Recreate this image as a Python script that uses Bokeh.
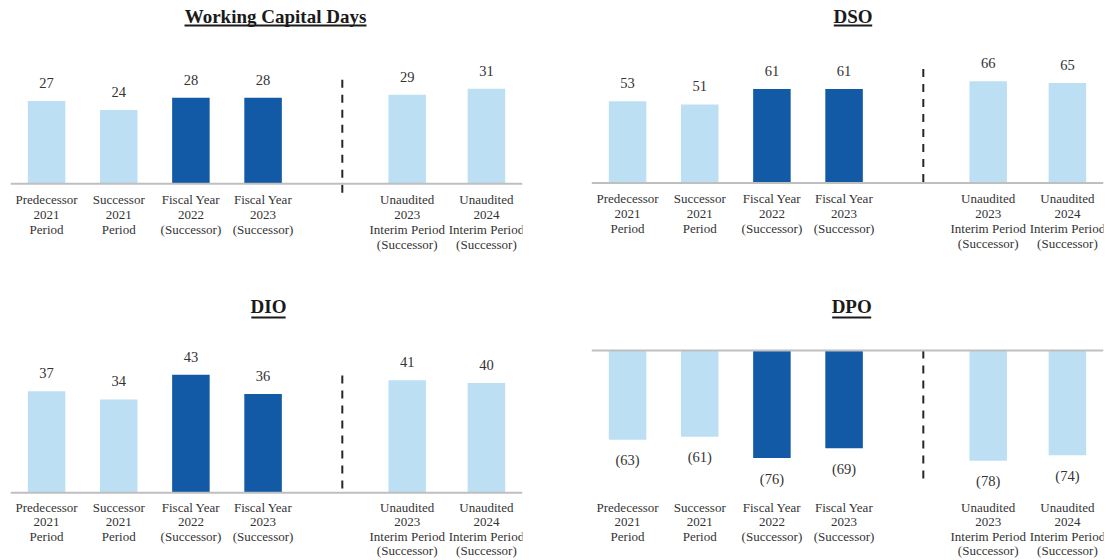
from bokeh.plotting import figure
from bokeh.layouts import column, row
from bokeh.models import ColumnDataSource, FactorRange, Range1d, Span, Label, BoxAnnotation
from bokeh.core.properties import value
from bokeh.embed import file_html
from bokeh.resources import INLINE

# ---------------- data ----------------
categories = [
    "Predecessor\n2021\nPeriod",
    "Successor\n2021\nPeriod",
    "Fiscal Year\n2022\n(Successor)",
    "Fiscal Year\n2023\n(Successor)",
    "Unaudited\n2023\nInterim Period\n(Successor)",
    "Unaudited\n2024\nInterim Period\n(Successor)",
]
kinds = ["period", "period", "fiscal", "fiscal", "interim", "interim"]

wcd_days = [27, 24, 28, 28, 29, 31]
dso_days = [53, 51, 61, 61, 66, 65]
dio_days = [37, 34, 43, 36, 41, 40]
dpo_days = [-63, -61, -76, -69, -78, -74]

titles = ["Working Capital Days", "DSO", "DIO", "DPO"]

# ---------------- style ----------------
GAP = " "
FONT = "Liberation Serif"
LIGHT = "#BDDFF4"
DARK = "#1259A6"
palette = {"period": LIGHT, "fiscal": DARK, "interim": LIGHT}
TEXT = "#333333"

# nested factor keys: audited periods | separator | interim periods
groups = [("a", "a1"), ("a", "a1"), ("a", "a1"), ("a", "a1"), ("b", "b1"), ("b", "b2")]
keys = [g + (c,) for g, c in zip(groups, categories)]
GAP_KEY = ("a", "a2", GAP)
factors = keys[:4] + [GAP_KEY] + keys[4:]


def fmt(v):
    return f"({abs(v)})" if v < 0 else f"{v}"


def panel(title, values, yr, sep, size, borders, title_xy, ul_w, ul_y, val_off, cat_off, cat_lh):
    p = figure(
        x_range=FactorRange(factors=factors, range_padding=0, factor_padding=0,
                            subgroup_padding=0.098, group_padding=-0.101),
        y_range=Range1d(*yr),
        width=size[0], height=size[1],
        min_border_left=borders[0], min_border_right=borders[1],
        min_border_top=0, min_border_bottom=0,
        toolbar_location=None, output_backend="svg",
        x_axis_location=None, y_axis_location=None,
    )
    p.grid.visible = False
    p.outline_line_color = None
    p.background_fill_color = "white"
    p.border_fill_color = "white"

    src = ColumnDataSource(dict(
        cat=keys,
        name=categories,
        val=values,
        color=[palette[k] for k in kinds],
        label=[fmt(v) for v in values],
        zero=[0] * len(values),
    ))
    p.vbar(x="cat", top="val", bottom=0, width=0.52, fill_color="color",
           line_color=None, source=src)
    p.add_layout(Span(location=0, dimension="width", line_color="#BFBFBF", line_width=2))
    p.segment(x0=[GAP_KEY], x1=[GAP_KEY], y0=[sep[0]], y1=[sep[1]], line_color="#262626",
              line_width=2, line_dash="8 7")
    p.text(x="cat", y="val", text="label", source=src, y_offset=val_off,
           text_align="center", text_baseline="middle", text_font=value(FONT),
           text_font_size="14.5px", text_color=TEXT)
    p.text(x="cat", y="zero", text="name", source=src, y_offset=cat_off,
           text_align="center", text_baseline="top", text_font=value(FONT),
           text_font_size="13px", text_color=TEXT, text_line_height=cat_lh)

    tx, ty = title_xy
    p.add_layout(Label(x=tx, y=ty, x_units="screen", y_units="screen", text=title,
                       text_font=FONT, text_font_style="bold", text_font_size="19px",
                       text_align="center", text_baseline="middle", text_color="#1a1a1a"))
    p.add_layout(BoxAnnotation(left=tx - ul_w / 2, right=tx + ul_w / 2,
                               bottom=ul_y - 1, top=ul_y + 1,
                               left_units="screen", right_units="screen",
                               top_units="screen", bottom_units="screen",
                               fill_color="#1a1a1a", fill_alpha=1, line_color=None))
    return p


p1 = panel(titles[0], wcd_days, (-33.78, 59.71), (33.9, -3.26), (581, 287), (10, 59),
           (265, 271.3), 182, 262, -18, 8.2, 1.0)
p2 = panel(titles[1], dso_days, (-67.86, 118.5), (74.0, -3.25), (526, 287), (10, 4),
           (261.5, 271.3), 38.4, 262, -18, 8.2, 1.0)
p3 = panel(titles[2], dio_days, (-24.64, 74.74), (42.7, 0), (581, 273), (10, 59),
           (258, 254), 34.3, 243, -18, 7.2, 0.95)
p4 = panel(titles[3], dpo_days, (-148.41, 44.52), (0, -94.7), (526, 273), (10, 4),
           (260.2, 254), 39, 243, 20.5, 149.7, 0.95)

layout = column(row(p1, p2), row(p3, p4))
open("out.html", "w").write(file_html(layout, INLINE))
